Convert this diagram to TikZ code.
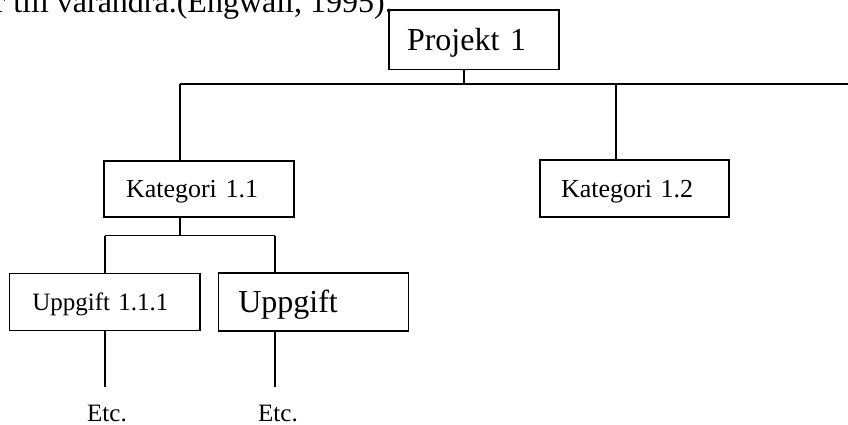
\documentclass[tikz,border=0pt]{standalone}
\usepackage{fontspec}
\setmainfont{Liberation Serif}
\begin{document}
\begin{tikzpicture}[x=1pt,y=1pt,line width=1.5pt,
  bigfont/.style={font=\fontsize{32}{38}\selectfont,text height=21.1pt},
  midfont/.style={font=\fontsize{26}{31}\selectfont,text height=17.2pt},
  smallfont/.style={font=\fontsize{25}{30}\selectfont,text height=16.5pt},
  wbs/.style={draw,rectangle,inner ysep=0pt,align=left,text depth=0pt},
  etc/.style={smallfont,inner sep=0pt,anchor=base}]
\useasboundingbox (0,0) rectangle (848,424);
\clip (0,0) rectangle (848,424);

% running text above the chart
\node[bigfont,anchor=base east,inner sep=0pt] (intro) at (393.5,411.5)
  {r till varandra.(Engwall, 1995).};

% boxes
\node[wbs,bigfont,minimum height=59.6pt,text width=134pt,inner xsep=18pt]
  (proj) at (474,384.2) {Projekt 1};
\node[wbs,midfont,minimum height=56.3pt,text width=146pt,inner xsep=22pt]
  (k11) at (199,235.1) {Kategori 1.1};
\node[wbs,midfont,minimum height=57pt,text width=147pt,inner xsep=21pt]
  (k12) at (634.5,235.5) {Kategori 1.2};
\node[wbs,smallfont,minimum height=57.4pt,text width=144.7pt,inner xsep=23pt]
  (u111) at (104.7,122) {Uppgift 1.1.1};
\node[wbs,bigfont,minimum height=58pt,text width=150pt,inner xsep=20pt]
  (u2) at (313.3,122) {Uppgift};

% trailing labels
\node[etc] (e1) at (107,2.8) {Etc.};
\node[etc] (e2) at (278,2.8) {Etc.};

% junction points
\coordinate (pj) at (464,340);
\coordinate (busL) at (180,340);
\coordinate (busR) at (848,340);
\coordinate (k12j) at (616,340);
\coordinate (sub) at (180,188.3);
\coordinate (subL) at (105,188.3);
\coordinate (subR) at (275,188.3);
\coordinate (endL) at (105,37);
\coordinate (endR) at (275,37);

% connectors
\draw (pj |- proj.south) -- (pj);
\draw (busL) -- (busR);
\draw (busL) -- (busL |- k11.north);
\draw (k12j) -- (k12j |- k12.north);
\draw (sub |- k11.south) -- (sub);
\draw (subL) -- (subR);
\draw (subL) -- (subL |- u111.north);
\draw (subR) -- (subR |- u2.north);
\draw (endL |- u111.south) -- (endL);
\draw (endR |- u2.south) -- (endR);
\end{tikzpicture}
\end{document}
